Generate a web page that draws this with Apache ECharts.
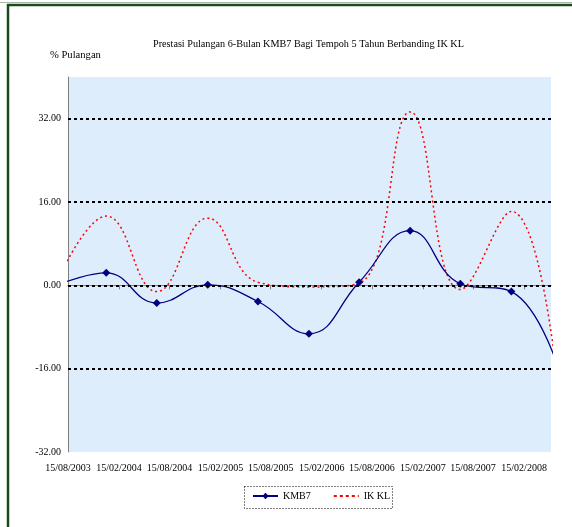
<!DOCTYPE html>
<html>
<head>
<meta charset="utf-8">
<script src="https://cdn.jsdelivr.net/npm/echarts@6/dist/echarts.min.js"></script>
<style>
html,body{margin:0;padding:0;background:#fff;}
#chart{width:572px;height:527px;}
</style>
</head>
<body>
<div id="chart"></div>
<script>
// ---- data ----
var chartTitle = 'Prestasi Pulangan 6-Bulan KMB7 Bagi Tempoh 5 Tahun Berbanding IK KL';
var yAxisTitle = '% Pulangan';
var dates = ['2003-08-04','2003-12-31','2004-06-30','2004-12-31','2005-06-30','2005-12-31',
             '2006-06-30','2006-12-31','2007-06-30','2007-12-31','2008-06-30'];
var kmb7 = [0.6, 2.4, -3.4, 0.1, -3.1, -9.3, 0.6, 10.5, 0.3, -1.2, -18.0];
var ikkl = [3.8, 13.3, -1.2, 12.9, 0.6, -0.3, 0.4, 33.3, -0.8, 14.2, -26.0];
var seriesNames = ['KMB7', 'IK KL'];
var xTickLabels = ['15/08/2003','15/02/2004','15/08/2004','15/02/2005','15/08/2005',
                   '15/02/2006','15/08/2006','15/02/2007','15/08/2007','15/02/2008'];
var xAxisMin = '2003-08-15', xAxisMax = '2008-05-22';
var yMin = -32, yMax = 40, yInterval = 16;
var gridLineValues = [32, 16, 0, -16];

// ---- helpers ----
var DAY = 86400000;
function parseDMY(s){ var p = s.split('/'); return Date.UTC(+p[2], +p[1]-1, +p[0]) / DAY; }
function parseISO(s){ var p = s.split('-'); return Date.UTC(+p[0], +p[1]-1, +p[2]) / DAY; }
var tickValues = xTickLabels.map(parseDMY);
function fmt(v){
  var i = tickValues.indexOf(v);
  return i >= 0 ? xTickLabels[i] : '';
}
function pairs(vals){ return dates.map(function(d,i){ return [parseISO(d), vals[i]]; }); }

var FONT = 'Liberation Serif';
var chart = echarts.init(document.getElementById('chart'), null, {renderer:'canvas'});
chart.setOption({
  animation: false,
  backgroundColor: '#ffffff',
  title: [
    {text: chartTitle, left: 153, top: 39, padding: 0,
     textStyle: {fontFamily: FONT, fontSize: 10.2, fontWeight: 'normal', color: '#000'}},
    {text: yAxisTitle, left: 50, top: 50, padding: 0,
     textStyle: {fontFamily: FONT, fontSize: 10.6, fontWeight: 'normal', color: '#000'}}
  ],
  grid: {left: 68, right: 21, top: 77, bottom: 75, show: true,
         backgroundColor: '#deedfb', borderWidth: 0},
  legend: {
    data: [
      {name: seriesNames[0]},
      {name: seriesNames[1], itemStyle: {opacity: 0, color: 'rgba(0,0,0,0)', borderWidth: 0},
       lineStyle: {type: [3, 3], width: 2, color: '#ff0000'}}
    ],
    left: 252, top: 491, itemWidth: 25, itemHeight: 8, itemGap: 22,
    padding: 0,
    textStyle: {fontFamily: FONT, fontSize: 10, color: '#000'}
  },
  xAxis: {
    type: 'value',
    min: parseISO(xAxisMin), max: parseISO(xAxisMax),
    axisLine: {show: true, lineStyle: {color: '#808080', width: 1}},
    axisTick: {show: true, inside: false, length: 4, customValues: tickValues,
               lineStyle: {color: '#808080'}},
    axisLabel: {customValues: tickValues, formatter: function(v){ return fmt(v); },
                fontFamily: FONT, fontSize: 10, color: '#000', margin: 11,
                hideOverlap: false, showMinLabel: true, showMaxLabel: true},
    splitLine: {show: false}
  },
  yAxis: {
    type: 'value', min: yMin, max: yMax, interval: yInterval,
    axisLine: {show: true, lineStyle: {color: '#808080', width: 1}},
    axisTick: {show: false},
    axisLabel: {showMaxLabel: false, formatter: function(v){ return v.toFixed(2); },
                fontFamily: FONT, fontSize: 10, color: '#000', margin: 7},
    splitLine: {show: false}
  },
  series: [
    {
      name: seriesNames[0], type: 'line', data: pairs(kmb7), smooth: 0.45,
      symbol: 'diamond', symbolSize: 8, showSymbol: true,
      itemStyle: {color: '#000080'},
      lineStyle: {color: '#000080', width: 1.3},
      z: 3,
      markLine: {
        silent: true, symbol: 'none', animation: false,
        label: {show: false},
        lineStyle: {color: '#000', type: [3, 3], width: 2},
        data: gridLineValues.map(function(v){ return {yAxis: v}; })
      }
    },
    {
      name: seriesNames[1], type: 'line', data: pairs(ikkl), smooth: 0.45,
      symbol: 'none', showSymbol: false,
      itemStyle: {color: '#ff0000'},
      lineStyle: {color: '#ff0000', width: 1.5, type: [2, 3]},
      z: 2
    }
  ],
  graphic: [
    {type: 'line', shape: {x1: 0, y1: 2.5, x2: 572, y2: 2.5}, style: {stroke: '#a8b8a8', lineWidth: 1}},
    {type: 'line', shape: {x1: 7, y1: 5, x2: 572, y2: 5}, style: {stroke: '#1b4a1b', lineWidth: 2.5}},
    {type: 'line', shape: {x1: 8, y1: 4, x2: 8, y2: 527}, style: {stroke: '#1b4a1b', lineWidth: 2.5}},
    {type: 'rect', shape: {x: 244.5, y: 486.5, width: 148, height: 22},
     style: {fill: 'none', stroke: '#000', lineWidth: 1, lineDash: [1, 2]}}
  ]
});
</script>
</body>
</html>
